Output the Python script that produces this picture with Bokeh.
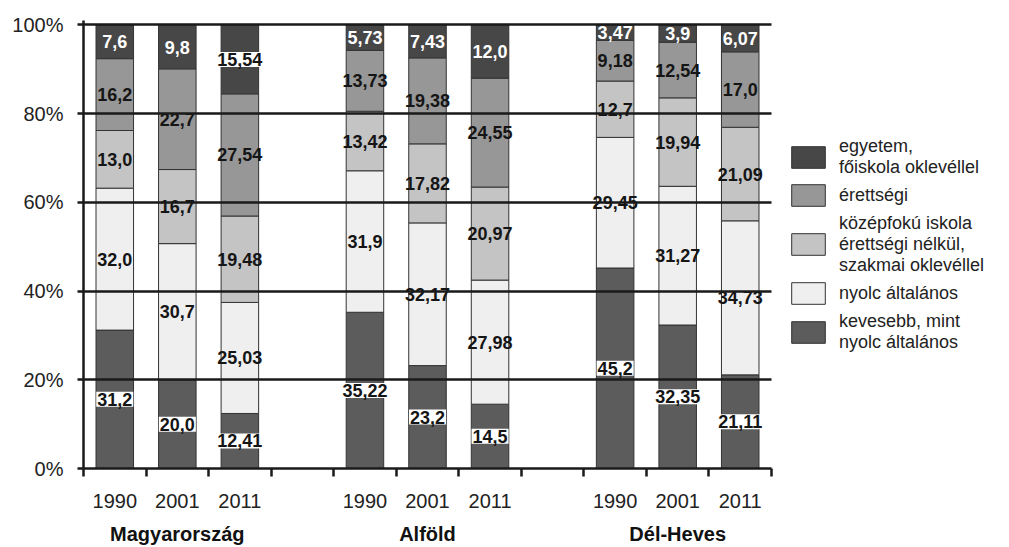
from bokeh.plotting import figure
from bokeh.models import (ColumnDataSource, Range1d, FixedTicker, LinearAxis, Legend,
                          LegendItem, CustomJSTickFormatter, PrintfTickFormatter, Grid)
from bokeh.core.properties import value
from bokeh.embed import file_html
from bokeh.resources import INLINE

groups = ["Magyarország", "Alföld", "Dél-Heves"]
years = ["1990", "2001", "2011"]
series = ["kevesebb, mint\nnyolc általános",
          "nyolc általános",
          "középfokú iskola\nérettségi nélkül,\nszakmai oklevéllel",
          "érettségi",
          "egyetem,\nfőiskola oklevéllel"]
# values per bar: Magyarország 1990/2001/2011, Alföld ..., Dél-Heves ...
kevesebb = [31.2, 20.0, 12.41, 35.22, 23.2, 14.5, 45.2, 32.35, 21.11]
nyolc = [32.0, 30.7, 25.03, 31.9, 32.17, 27.98, 29.45, 31.27, 34.73]
kozepfoku = [13.0, 16.7, 19.48, 13.42, 17.82, 20.97, 12.7, 19.94, 21.09]
erettsegi = [16.2, 22.7, 27.54, 13.73, 19.38, 24.55, 9.18, 12.54, 17.0]
egyetem = [7.6, 9.8, 15.54, 5.73, 7.43, 12.0, 3.47, 3.9, 6.07]
y_ticks = [0, 20, 40, 60, 80, 100]

colors = ["#5c5c5c", "#efefef", "#c4c4c4", "#979797", "#474747"]
values = [kevesebb, nyolc, kozepfoku, erettsegi, egyetem]

FONT = "Liberation Sans"

def fmt(v):
    if abs(v * 10 - round(v * 10)) > 1e-6:
        return f"{v:.2f}".replace(".", ",")
    return f"{v:.1f}".replace(".", ",")

n_slots = len(groups) * (len(years) + 1) - 1
xs = [g * (len(years) + 1) + j + 0.5 for g in range(len(groups)) for j in range(len(years))]

p = figure(x_range=Range1d(0, n_slots), y_range=Range1d(0, 101),
           frame_width=688, frame_height=448,
           min_border_left=83, min_border_right=0, min_border_top=20, min_border_bottom=0,
           x_axis_type=None, y_axis_type=None,
           output_backend="svg", toolbar_location=None)
p.outline_line_color = None
p.background_fill_color = "white"

renderers = []
bottoms = [0.0] * len(xs)
plain = dict(x=[], y=[], t=[])
boxed = dict(x=[], y=[], t=[])
white = dict(x=[], y=[], t=[])
for k, vals in enumerate(values):
    tops = [b + v for b, v in zip(bottoms, vals)]
    src = ColumnDataSource(dict(x=xs, bottom=bottoms, top=tops))
    r = p.vbar(x="x", width=0.6, bottom="bottom", top="top", source=src,
               fill_color=colors[k], line_color="#333333", line_width=1)
    renderers.append(r)
    for i, v in enumerate(vals):
        mid = bottoms[i] + v / 2
        if k == 0 or (k == 4 and v > 15):
            d = boxed
        elif k == 4:
            d = white
        else:
            d = plain
        d["x"].append(xs[i]); d["y"].append(mid); d["t"].append(fmt(v))
    bottoms = tops

common = dict(x="x", y="y", text="t", text_align="center", text_baseline="middle",
              text_font=value(FONT), text_font_style="bold", text_font_size="18px")
p.text(source=ColumnDataSource(plain), text_color="#151515", **common)
p.text(source=ColumnDataSource(white), text_color="white", **common)
p.text(source=ColumnDataSource(boxed), text_color="#151515",
       background_fill_color="white", padding=1, **common)

grid = Grid(dimension=1, ticker=FixedTicker(ticks=y_ticks[1:]),
            grid_line_color="#1a1a1a", grid_line_width=2.5, level="overlay")
p.add_layout(grid)

yax = LinearAxis(ticker=FixedTicker(ticks=y_ticks), formatter=PrintfTickFormatter(format="%d%%"),
                 axis_line_width=2.5, axis_line_color="#1a1a1a",
                 major_tick_out=6, major_tick_in=0, major_tick_line_width=2.5,
                 major_tick_line_color="#1a1a1a", minor_tick_line_color=None,
                 major_label_standoff=14, major_label_text_font=FONT,
                 major_label_text_font_size="20px", major_label_text_color="#222222")
p.add_layout(yax, "left")

year_labels = [y for g in groups for y in years]
xax = LinearAxis(ticker=FixedTicker(ticks=xs, minor_ticks=list(range(n_slots + 1))),
                 formatter=CustomJSTickFormatter(args=dict(labs=year_labels), code="return labs[index];"),
                 axis_line_width=2.5, axis_line_color="#1a1a1a",
                 major_tick_line_color=None, major_tick_out=0, major_tick_in=0,
                 minor_tick_out=8, minor_tick_in=0, minor_tick_line_width=2.5,
                 minor_tick_line_color="#1a1a1a", major_label_standoff=17,
                 major_label_text_font=FONT, major_label_text_font_size="20px",
                 major_label_text_color="#222222")
p.add_layout(xax, "below")

gcenters = [g * (len(years) + 1) + len(years) / 2 for g in range(len(groups))]
gax = LinearAxis(ticker=FixedTicker(ticks=gcenters),
                 formatter=CustomJSTickFormatter(args=dict(labs=groups), code="return labs[index];"),
                 axis_line_color=None, major_tick_line_color=None, minor_tick_line_color=None,
                 major_tick_out=0, major_tick_in=0, major_label_standoff=12,
                 major_label_text_font=FONT, major_label_text_font_size="20px",
                 major_label_text_font_style="bold", major_label_text_color="#111111")
p.add_layout(gax, "below")

items = [LegendItem(label=series[k], renderers=[renderers[k]]) for k in reversed(range(len(series)))]
legend = Legend(items=items, location="center_left", orientation="vertical",
                glyph_width=42, glyph_height=27, label_standoff=10, spacing=4,
                padding=0, margin=16, border_line_color=None, background_fill_alpha=0,
                label_text_font=FONT, label_text_font_size="18px", label_text_color="#222222",
                label_text_line_height=0.8, label_height=27)
p.add_layout(legend, "right")

open("out.html", "w").write(file_html(p, INLINE))
